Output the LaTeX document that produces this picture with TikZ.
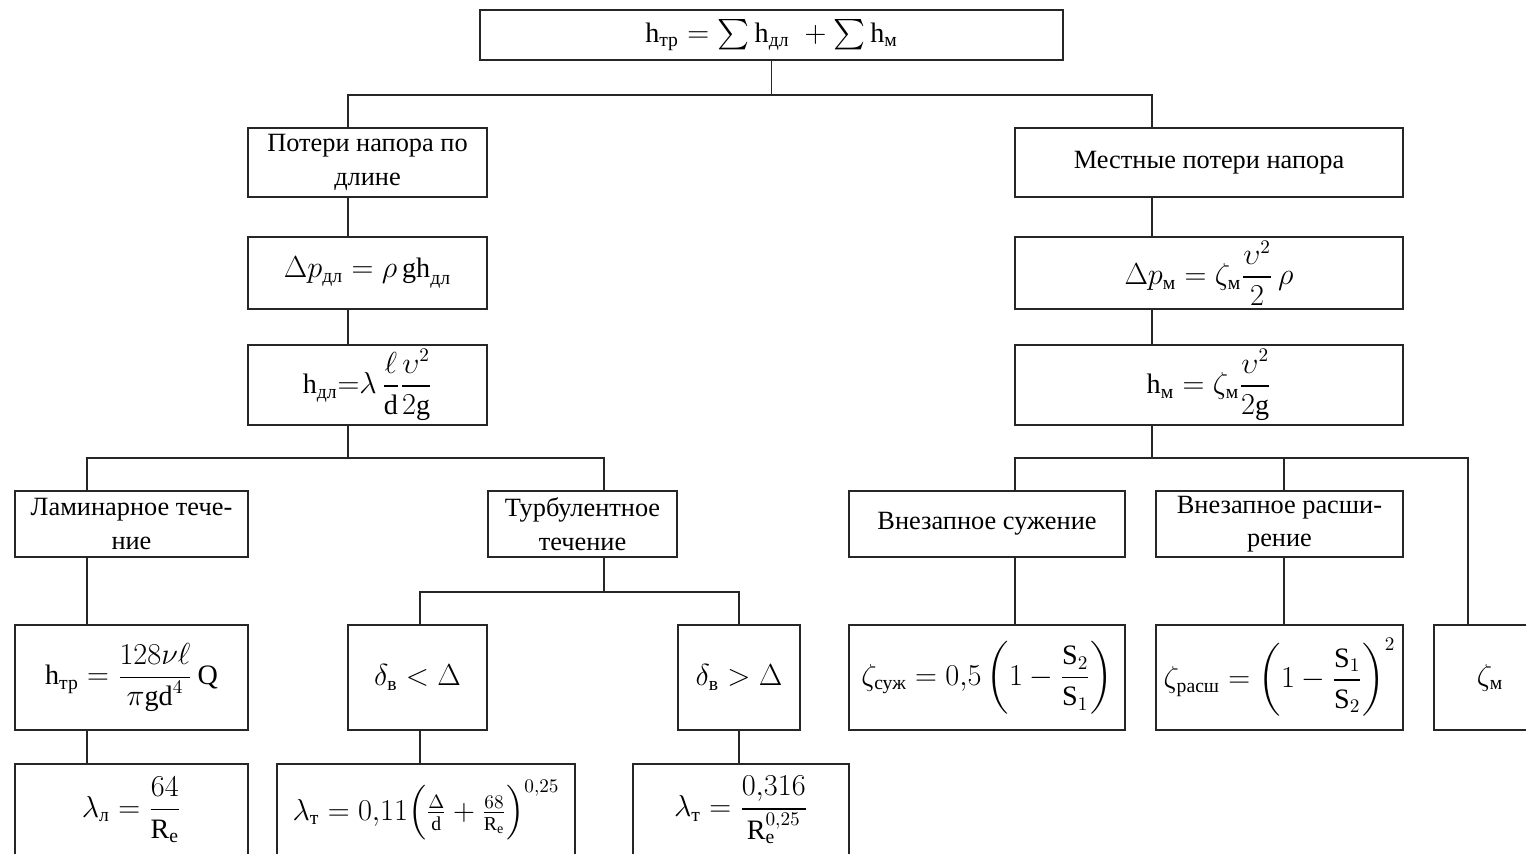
\documentclass[tikz,border=0pt]{standalone}
\usepackage{amsmath}
\usepackage{fontspec}
\setmainfont{Liberation Serif}
\begin{document}
\begin{tikzpicture}[x=0.02cm,y=-0.02cm,
  box/.style={draw=black!85,line width=1.1pt,inner sep=2pt,outer sep=0pt,align=center,
    font=\fontsize{15}{19}\selectfont},
  link/.style={draw=black!85,line width=1.1pt}]
\useasboundingbox (0,0) rectangle (1526,853);
\clip (0,0) rectangle (1526,853);
\newcommand{\bx}[6]{\node[box, minimum width={(#4-#2)*0.02cm}, minimum height={(#5-#3)*0.02cm}] (#1) at ({(#2+#4)/2},{(#3+#5)/2}) {#6};}
\newcommand{\fs}{\fontsize{16}{19}\selectfont}
% level 0
\bx{top}{480}{10}{1063}{60}{\fs$\mathrm{h}_{\text{тр}} = \sum \mathrm{h}_{\text{дл}}\; + \sum \mathrm{h}_{\text{м}}$}
% left column
\bx{L1}{248}{128}{487}{197}{Потери напора по\\длине}
\bx{L2}{248}{237}{487}{309}{\fs$\Delta p_{\text{дл}} = \rho\,\mathrm{gh}_{\text{дл}}$}
\bx{L3}{248}{345}{487}{425}{\fs$\mathrm{h}_{\text{дл}}{=}\lambda\,\dfrac{\ell}{\mathrm{d}}\dfrac{\upsilon^2}{2\mathrm{g}}$}
% right column
\bx{R1}{1015}{128}{1403}{197}{Местные потери напора}
\bx{R2}{1015}{237}{1403}{309}{\fs$\Delta p_{\text{м}} = \zeta_{\text{м}}\dfrac{\upsilon^2}{2}\,\rho$}
\bx{R3}{1015}{345}{1403}{425}{\fs$\mathrm{h}_{\text{м}} = \zeta_{\text{м}}\dfrac{\upsilon^2}{2\mathrm{g}}$}
% flow regimes
\bx{Lam}{15}{491}{248}{557}{Ламинарное тече-\\ние}
\bx{Tur}{488}{491}{677}{557}{Турбулентное\\течение}
\bx{hLam}{15}{625}{248}{730}{\fs$\mathrm{h}_{\text{тр}} = \dfrac{128\nu\ell}{\pi\mathrm{gd}^4}\,\mathrm{Q}$}
\bx{lamL}{15}{764}{248}{856}{\fs$\lambda_{\text{л}} = \dfrac{64}{\mathrm{R_e}}$}
\bx{D1}{348}{625}{487}{730}{\fs$\delta_{\text{в}} < \Delta$}
\bx{D2}{678}{625}{800}{730}{\fs$\delta_{\text{в}} > \Delta$}
\bx{lt1}{277}{764}{575}{856}{\fs$\lambda_{\text{т}} = 0{,}11\Bigl(\frac{\Delta}{\mathrm{d}}+\frac{68}{\mathrm{R_e}}\Bigr)^{0{,}25}$}
\bx{lt2}{633}{764}{849}{856}{\fs$\lambda_{\text{т}} = \dfrac{0{,}316}{\mathrm{R}_{\mathrm{e}}^{0{,}25}}$}
% local losses
\bx{S}{849}{491}{1125}{557}{Внезапное сужение}
\bx{E}{1156}{491}{1403}{557}{Внезапное расши-\\рение}
\bx{S2}{849}{625}{1125}{730}{\fs$\zeta_{\text{суж}} = 0{,}5\left(1-\dfrac{\mathrm{S}_2}{\mathrm{S}_1}\right)$}
\bx{E2}{1156}{625}{1403}{730}{\fs$\zeta_{\text{расш}} = \left(1-\dfrac{\mathrm{S}_1}{\mathrm{S}_2}\right)^{2}$}
\bx{Zm}{1434}{625}{1546}{730}{\fs$\zeta_{\text{м}}$}
% column coordinates
\coordinate (cL) at (348,0);
\coordinate (cR) at (1152,0);
\coordinate (cLam) at (87,0);
\coordinate (cTur) at (604,0);
\coordinate (cD1) at (420,0);
\coordinate (cD2) at (739,0);
\coordinate (cS) at (1015,0);
\coordinate (cE) at (1284,0);
\coordinate (cZ) at (1468,0);
\coordinate (j0) at (771.5,95);
\coordinate (j1) at (348,458);
\coordinate (j2) at (604,592);
\coordinate (j3) at (1152,458);
\coordinate (j4) at (1284,458);
% connectors
\draw[link] (top.south) -- (j0);
\draw[link] (L1.north -| cL) |- (j0) -| (R1.north -| cR);
\draw[link] (L1.south -| cL) -- (L2.north -| cL);
\draw[link] (L2.south -| cL) -- (L3.north -| cL);
\draw[link] (R1.south -| cR) -- (R2.north -| cR);
\draw[link] (R2.south -| cR) -- (R3.north -| cR);
\draw[link] (L3.south -| cL) -- (j1);
\draw[link] (Lam.north -| cLam) |- (j1) -| (Tur.north -| cTur);
\draw[link] (Lam.south -| cLam) -- (hLam.north -| cLam);
\draw[link] (hLam.south -| cLam) -- (lamL.north -| cLam);
\draw[link] (Tur.south -| cTur) -- (j2);
\draw[link] (D1.north -| cD1) |- (j2) -| (D2.north -| cD2);
\draw[link] (D1.south -| cD1) -- (lt1.north -| cD1);
\draw[link] (D2.south -| cD2) -- (lt2.north -| cD2);
\draw[link] (R3.south -| cR) -- (j3);
\draw[link] (S.north -| cS) |- (j3) -| (Zm.north -| cZ);
\draw[link] (E.north -| cE) -- (j4);
\draw[link] (S.south -| cS) -- (S2.north -| cS);
\draw[link] (E.south -| cE) -- (E2.north -| cE);
\end{tikzpicture}
\end{document}
